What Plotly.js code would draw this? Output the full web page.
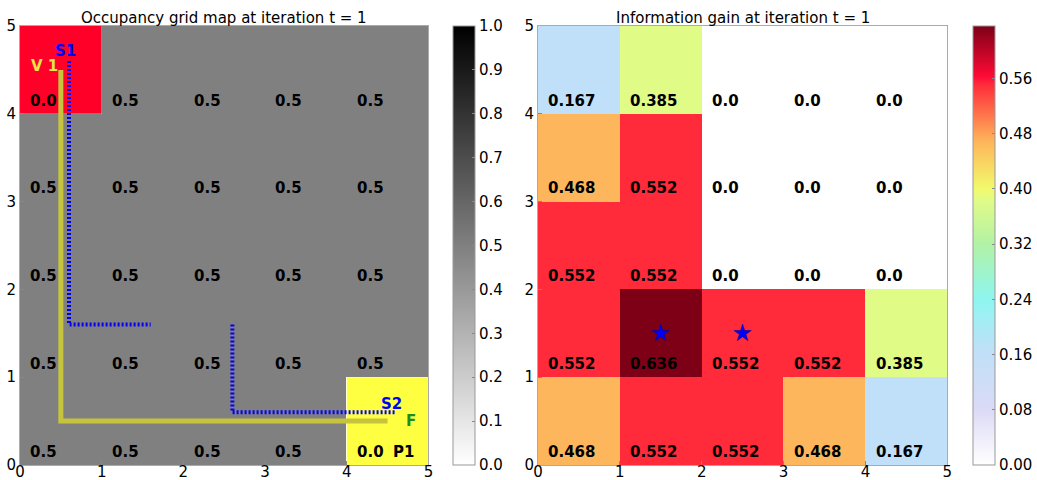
<!DOCTYPE html>
<html>
<head>
<meta charset="utf-8">
<script src="https://cdn.plot.ly/plotly-3.0.1.min.js"></script>
<style>html,body{margin:0;padding:0;background:#fff;}#chart{width:1037px;height:480px;}</style>
</head>
<body>
<div id="chart"></div>
<script>
// ---------- data ----------
const cellCenters = [0.5, 1.5, 2.5, 3.5, 4.5];
// occupancy grid rows, top row (y=4) first
const occupancyRows = [
  [0.0, 0.5, 0.5, 0.5, 0.5],
  [0.5, 0.5, 0.5, 0.5, 0.5],
  [0.5, 0.5, 0.5, 0.5, 0.5],
  [0.5, 0.5, 0.5, 0.5, 0.5],
  [0.5, 0.5, 0.5, 0.5, 0.0]
];
// information gain rows, top row (y=4) first
const gainRows = [
  [0.167, 0.385, 0.0, 0.0, 0.0],
  [0.468, 0.552, 0.0, 0.0, 0.0],
  [0.552, 0.552, 0.0, 0.0, 0.0],
  [0.552, 0.636, 0.552, 0.552, 0.385],
  [0.468, 0.552, 0.552, 0.468, 0.167]
];
const occupancyLabels = occupancyRows.map(r => r.map(v => v.toFixed(1)));
const gainLabels = [
  ['0.167', '0.385', '0.0', '0.0', '0.0'],
  ['0.468', '0.552', '0.0', '0.0', '0.0'],
  ['0.552', '0.552', '0.0', '0.0', '0.0'],
  ['0.552', '0.636', '0.552', '0.552', '0.385'],
  ['0.468', '0.552', '0.552', '0.468', '0.167']
];
// highlighted cells [col, row]
const startCell = [0, 4];
const goalCell = [4, 0];
// vehicle path
const vehiclePathX = [0.5, 0.5, 4.5];
const vehiclePathY = [4.5, 0.5, 0.5];
// sensor paths
const sensor1PathX = [0.6, 0.6, 1.6];
const sensor1PathY = [4.6, 1.6, 1.6];
const sensor2PathX = [2.6, 2.6, 4.6];
const sensor2PathY = [1.6, 0.6, 0.6];
// candidate points (stars)
const candidateX = [1.5, 2.5];
const candidateY = [1.5, 1.5];
// point labels
const pointLabels = ['V 1', 'S1', 'S2', 'F', 'P1'];
const pointLabelX = [0.11, 0.40, 4.39, 4.70, 4.54];
const pointLabelY = [4.55, 4.715, 0.695, 0.50, 0.15];
const pointLabelColors = ['#e6e64a', '#0000ff', '#0000ff', '#1e8c1e', '#000000'];
const titles = ['Occupancy grid map at iteration t = 1', 'Information gain at iteration t = 1'];

// ---------- build ----------
const FONT = 'DejaVu Sans, Liberation Sans, sans-serif';
const yRev = arr => arr.slice().reverse();
const cellRect = (c) => ({x: [c[0], c[0] + 1, c[0] + 1, c[0], c[0]], y: [c[1], c[1], c[1] + 1, c[1] + 1, c[1]]});
const sRect = cellRect(startCell), gRect = cellRect(goalCell);

const gainScale = [
  [0.0, '#ffffff'],
  [0.126, '#dcdaf6'],
  [0.2626, '#bfe0f8'],
  [0.377, '#8ef6f0'],
  [0.503, '#b2f2a6'],
  [0.605, '#e1fb87'],
  [0.629, '#f2fa6c'],
  [0.736, '#fdb65b'],
  [0.868, '#ff2a3a'],
  [0.885, '#ff0a36'],
  [1.0, '#7d0017']
];

const traces = [
  {type: 'heatmap', x: cellCenters, y: cellCenters, z: yRev(occupancyRows), zmin: 0, zmax: 1,
   colorscale: [[0, '#ffffff'], [1, '#000000']], xaxis: 'x', yaxis: 'y', hoverinfo: 'skip',
   colorbar: {x: 0.4277, xanchor: 'left', xpad: 0, y: 0.5, yanchor: 'middle', len: 1, lenmode: 'fraction', ypad: 0,
     thickness: 22, outlinewidth: 1, outlinecolor: '#999', tickvals: [0,0.1,0.2,0.3,0.4,0.5,0.6,0.7,0.8,0.9,1.0],
     ticktext: ['0.0','0.1','0.2','0.3','0.4','0.5','0.6','0.7','0.8','0.9','1.0'], ticks: 'inside', ticklen: 3, tickcolor: '#888',
     tickfont: {family: FONT, size: 15, color: '#000'}}},
  {type: 'scatter', x: sRect.x, y: sRect.y, fill: 'toself', fillcolor: 'rgb(255,0,40)', mode: 'lines', line: {width: 0},
   xaxis: 'x', yaxis: 'y', showlegend: false, hoverinfo: 'skip'},
  {type: 'scatter', x: gRect.x, y: gRect.y, fill: 'toself', fillcolor: 'rgb(255,255,66)', mode: 'lines', line: {width: 0},
   xaxis: 'x', yaxis: 'y', showlegend: false, hoverinfo: 'skip'},
  {type: 'scatter', x: vehiclePathX, y: vehiclePathY, mode: 'lines', line: {color: '#c6c43c', width: 5},
   xaxis: 'x', yaxis: 'y', showlegend: false, hoverinfo: 'skip'},
  {type: 'scatter', x: sensor1PathX, y: sensor1PathY, mode: 'lines', line: {color: '#0000ff', width: 4, dash: '2px,2px'},
   xaxis: 'x', yaxis: 'y', showlegend: false, hoverinfo: 'skip'},
  {type: 'scatter', x: sensor2PathX, y: sensor2PathY, mode: 'lines', line: {color: '#0000ff', width: 4, dash: '2px,2px'},
   xaxis: 'x', yaxis: 'y', showlegend: false, hoverinfo: 'skip'},
  {type: 'heatmap', x: cellCenters, y: cellCenters, z: yRev(gainRows), zmin: 0, zmax: 0.636,
   colorscale: gainScale, xaxis: 'x2', yaxis: 'y2', hoverinfo: 'skip',
   colorbar: {x: 0.941, xanchor: 'left', xpad: 0, y: 0.5, yanchor: 'middle', len: 1, lenmode: 'fraction', ypad: 0,
     thickness: 22, outlinewidth: 1, outlinecolor: '#999', tickvals: [0,0.08,0.16,0.24,0.32,0.40,0.48,0.56],
     ticktext: ['0.00','0.08','0.16','0.24','0.32','0.40','0.48','0.56'], ticks: 'inside', ticklen: 3, tickcolor: '#888',
     tickfont: {family: FONT, size: 15, color: '#000'}}},
  {type: 'scatter', x: candidateX, y: candidateY, mode: 'markers',
   marker: {symbol: 'star', size: 13, color: '#0000ff', line: {width: 0.5, color: '#000080'}},
   xaxis: 'x2', yaxis: 'y2', showlegend: false, hoverinfo: 'skip'}
];

const annotations = [];
const labelFont = {family: FONT, size: 15, color: '#000', weight: 'bold'};
for (let r = 0; r < 5; r++) {
  const yv = 4 - r;
  for (let c = 0; c < 5; c++) {
    annotations.push({xref: 'x', yref: 'y', x: c + 0.1, y: yv + 0.15, text: occupancyLabels[r][c], showarrow: false,
      xanchor: 'left', yanchor: 'middle', font: labelFont});
    annotations.push({xref: 'x2', yref: 'y2', x: c + 0.1, y: yv + 0.15, text: gainLabels[r][c], showarrow: false,
      xanchor: 'left', yanchor: 'middle', font: labelFont});
  }
}
pointLabels.forEach((t, i) => {
  annotations.push({xref: 'x', yref: 'y', x: pointLabelX[i], y: pointLabelY[i], text: t, showarrow: false,
    xanchor: 'left', yanchor: 'middle', font: {family: FONT, size: 15, color: pointLabelColors[i], weight: 'bold'}});
});
annotations.push({xref: 'x domain', yref: 'paper', x: 0.5, y: 1, text: titles[0], showarrow: false,
  xanchor: 'center', yanchor: 'bottom', yshift: -3, font: {family: FONT, size: 15, color: '#000'}});
annotations.push({xref: 'x2 domain', yref: 'paper', x: 0.5, y: 1, text: titles[1], showarrow: false,
  xanchor: 'center', yanchor: 'bottom', yshift: -3, font: {family: FONT, size: 15, color: '#000'}});

const axisBase = {range: [0, 5], tickvals: [0, 1, 2, 3, 4, 5], ticktext: ['0','1','2','3','4','5'],
  showgrid: false, zeroline: false, showline: true, linecolor: '#aaa', linewidth: 1, mirror: true,
  ticks: 'inside', ticklen: 4, tickcolor: '#888', tickfont: {family: FONT, size: 15, color: '#000'}, fixedrange: true};
const xAxisBase = Object.assign({}, axisBase, {ticklabelstandoff: -7});

const layout = {
  width: 1037, height: 480,
  margin: {l: 20, r: 0, t: 26, b: 15, pad: 0},
  paper_bgcolor: '#fff', plot_bgcolor: '#fff',
  showlegend: false,
  xaxis: Object.assign({}, xAxisBase, {domain: [0, 0.4032], anchor: 'y'}),
  yaxis: Object.assign({}, axisBase, {domain: [0, 1], anchor: 'x'}),
  xaxis2: Object.assign({}, xAxisBase, {domain: [0.5113, 0.9154], anchor: 'y2'}),
  yaxis2: Object.assign({}, axisBase, {domain: [0, 1], anchor: 'x2'}),
  annotations: annotations
};

Plotly.newPlot('chart', traces, layout, {displayModeBar: false, staticPlot: true});
</script>
</body>
</html>
